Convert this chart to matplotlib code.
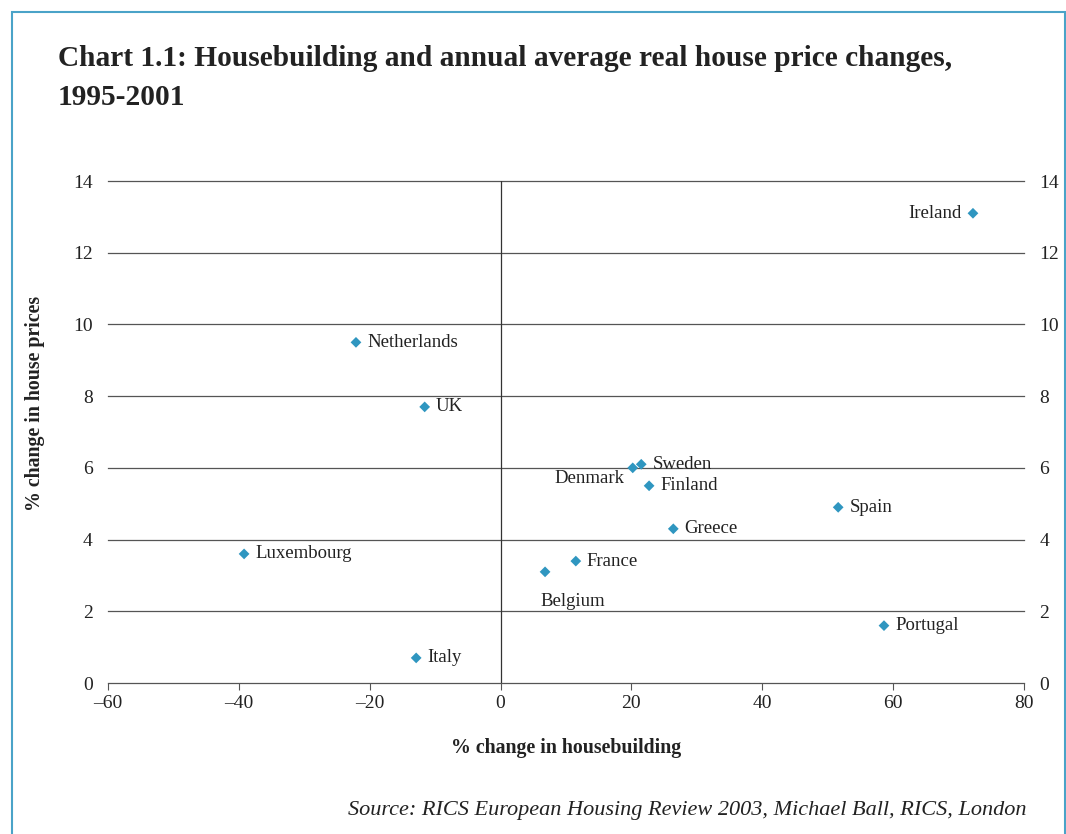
import matplotlib
matplotlib.use("Agg")
import matplotlib.pyplot as plt
from matplotlib.patches import Rectangle

countries = ["Ireland", "Netherlands", "UK", "Sweden", "Denmark", "Finland", "Greece",
             "Spain", "Luxembourg", "France", "Belgium", "Portugal", "Italy"]
housebuilding = [72.2, -22.1, -11.6, 21.5, 20.2, 22.7, 26.4, 51.6, -39.2, 11.5, 6.8, 58.6, -12.9]
house_prices = [13.1, 9.5, 7.7, 6.1, 6.0, 5.5, 4.3, 4.9, 3.6, 3.4, 3.1, 1.6, 0.7]
# label placement: r = right, l = left, dl = left-below, b = below
label_pos = ["l", "r", "r", "r", "dl", "r", "r", "r", "r", "r", "b", "r", "r"]
x_ticks = [-60, -40, -20, 0, 20, 40, 60, 80]
y_ticks = [0, 2, 4, 6, 8, 10, 12, 14]

plt.rcParams['font.family'] = ['Liberation Serif', 'DejaVu Serif']

fig = plt.figure(figsize=(10.66, 8.34), dpi=100)
fig.patches.append(Rectangle((12/1066, -0.05), (1065-12)/1066, (834-12)/834 + 0.05,
                             transform=fig.transFigure, fill=False,
                             edgecolor='#4aa3c8', linewidth=1.5))

ax = fig.add_axes([108/1066, 151/834, 916/1066, 502/834])
ax.set_xlim(-60, 80)
ax.set_ylim(0, 14)
for s in ax.spines.values():
    s.set_visible(False)
for y in y_ticks:
    ax.axhline(y, color='#555555', lw=0.9, zorder=1, clip_on=False)
ax.axvline(0, color='#333333', lw=0.9, zorder=1)

ax.scatter(housebuilding, house_prices, marker='D', s=30, color='#2f96c0',
           edgecolors='none', zorder=3)

fs = 13.5
for c, x, y, p in zip(countries, housebuilding, house_prices, label_pos):
    if p == "r":
        ax.annotate(c, (x, y), xytext=(8, 0), textcoords='offset points',
                    ha='left', va='center', fontsize=fs, color='#222222')
    elif p == "l":
        ax.annotate(c, (x, y), xytext=(-8, 0), textcoords='offset points',
                    ha='right', va='center', fontsize=fs, color='#222222')
    elif p == "dl":
        ax.annotate(c, (x, y), xytext=(-6, -8), textcoords='offset points',
                    ha='right', va='center', fontsize=fs, color='#222222')
    elif p == "b":
        ax.annotate(c, (x, y), xytext=(-3, -21), textcoords='offset points',
                    ha='left', va='center', fontsize=fs, color='#222222')

ax.set_xticks(x_ticks)
ax.set_xticklabels([("\u2013" + str(-t)) if t < 0 else str(t) for t in x_ticks])
ax.set_yticks(y_ticks)
ax.tick_params(axis='x', length=5, color='#555555', labelsize=14, pad=4, labelcolor='#222222')
ax.tick_params(axis='y', length=0, labelsize=14, pad=11, labelcolor='#222222',
               left=True, right=True, labelleft=True, labelright=True)

ax.set_xlabel('% change in housebuilding', fontsize=14.3, fontweight='bold',
              labelpad=18, color='#222222')
ax.set_ylabel('% change in house prices', fontsize=14.3, fontweight='bold',
              color='#222222')
ax.yaxis.set_label_coords(-0.069, 0.556)

fig.text(58/1066, 1 - 45/834, 'Chart 1.1: Housebuilding and annual average real house price changes,\n1995-2001',
         ha='left', va='top', fontsize=21.2, fontweight='bold', color='#222222',
         linespacing=1.55)
fig.text(1027/1066, 1 - 810/834, 'Source: RICS European Housing Review 2003, Michael Ball, RICS, London',
         ha='right', va='center', fontsize=16, style='italic', color='#222222')

fig.savefig('out.png', dpi=100)
